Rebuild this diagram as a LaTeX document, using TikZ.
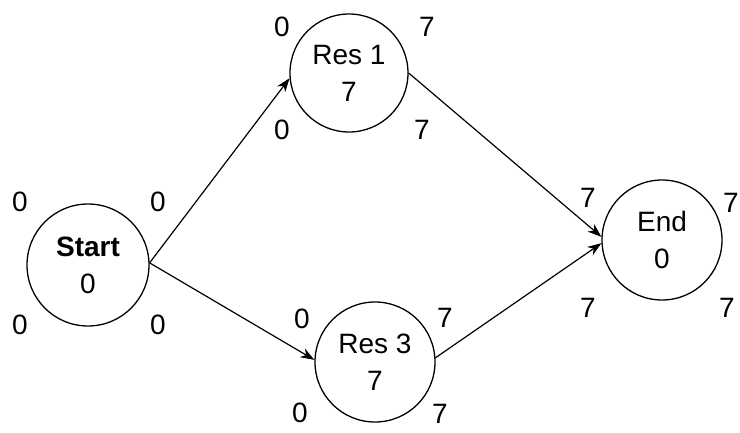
\documentclass[tikz,border=0pt]{standalone}
\usepackage{fontspec}
\setmainfont{Liberation Sans}
\usetikzlibrary{arrows.meta}
\begin{document}
\begin{tikzpicture}[x=1pt,y=-1pt,
  evt/.style={draw, circle, minimum size=120pt, inner sep=0pt, line width=1.3pt, align=center, font=\fontsize{28}{37}\selectfont},
  num/.style={font=\fontsize{28}{34}\selectfont, inner sep=0pt},
  link/.style={line width=1.2pt, -{Stealth[length=14pt,width=10pt]}}]
\useasboundingbox (0,0) rectangle (740,432);
\node[evt, minimum size=122pt] (start) at (88,265) {\textbf{Start}\\0};
\node[evt, minimum size=118pt] (res1) at (349,73) {Res 1\\7};
\node[evt] (res3) at (375,362) {Res 3\\7};
\node[evt] (end) at (662,240) {End\\0};
% labels
\node[num] (s1) at (20,202) {0};
\node[num] (s2) at (158,202) {0};
\node[num] (s3) at (20,325) {0};
\node[num] (s4) at (158,325) {0};
\node[num] (r1a) at (282,27) {0};
\node[num] (r1b) at (427,27) {7};
\node[num] (r1c) at (282,130) {0};
\node[num] (r1d) at (422,130) {7};
\node[num] (r3a) at (302,319) {0};
\node[num] (r3b) at (445,318) {7};
\node[num] (r3c) at (300,413) {0};
\node[num] (r3d) at (440,414) {7};
\node[num] (e1) at (588,198) {7};
\node[num] (e2) at (731,203) {7};
\node[num] (e3) at (588,308) {7};
\node[num] (e4) at (727,308) {7};
% connectors
\draw[link] (start.2) -- (res1.185);
\draw[link] (start.2) -- (res3.178);
\draw[link] (res1.east) -- (end.177);
\draw[link] (res3.4) -- (end.183);
\end{tikzpicture}
\end{document}
